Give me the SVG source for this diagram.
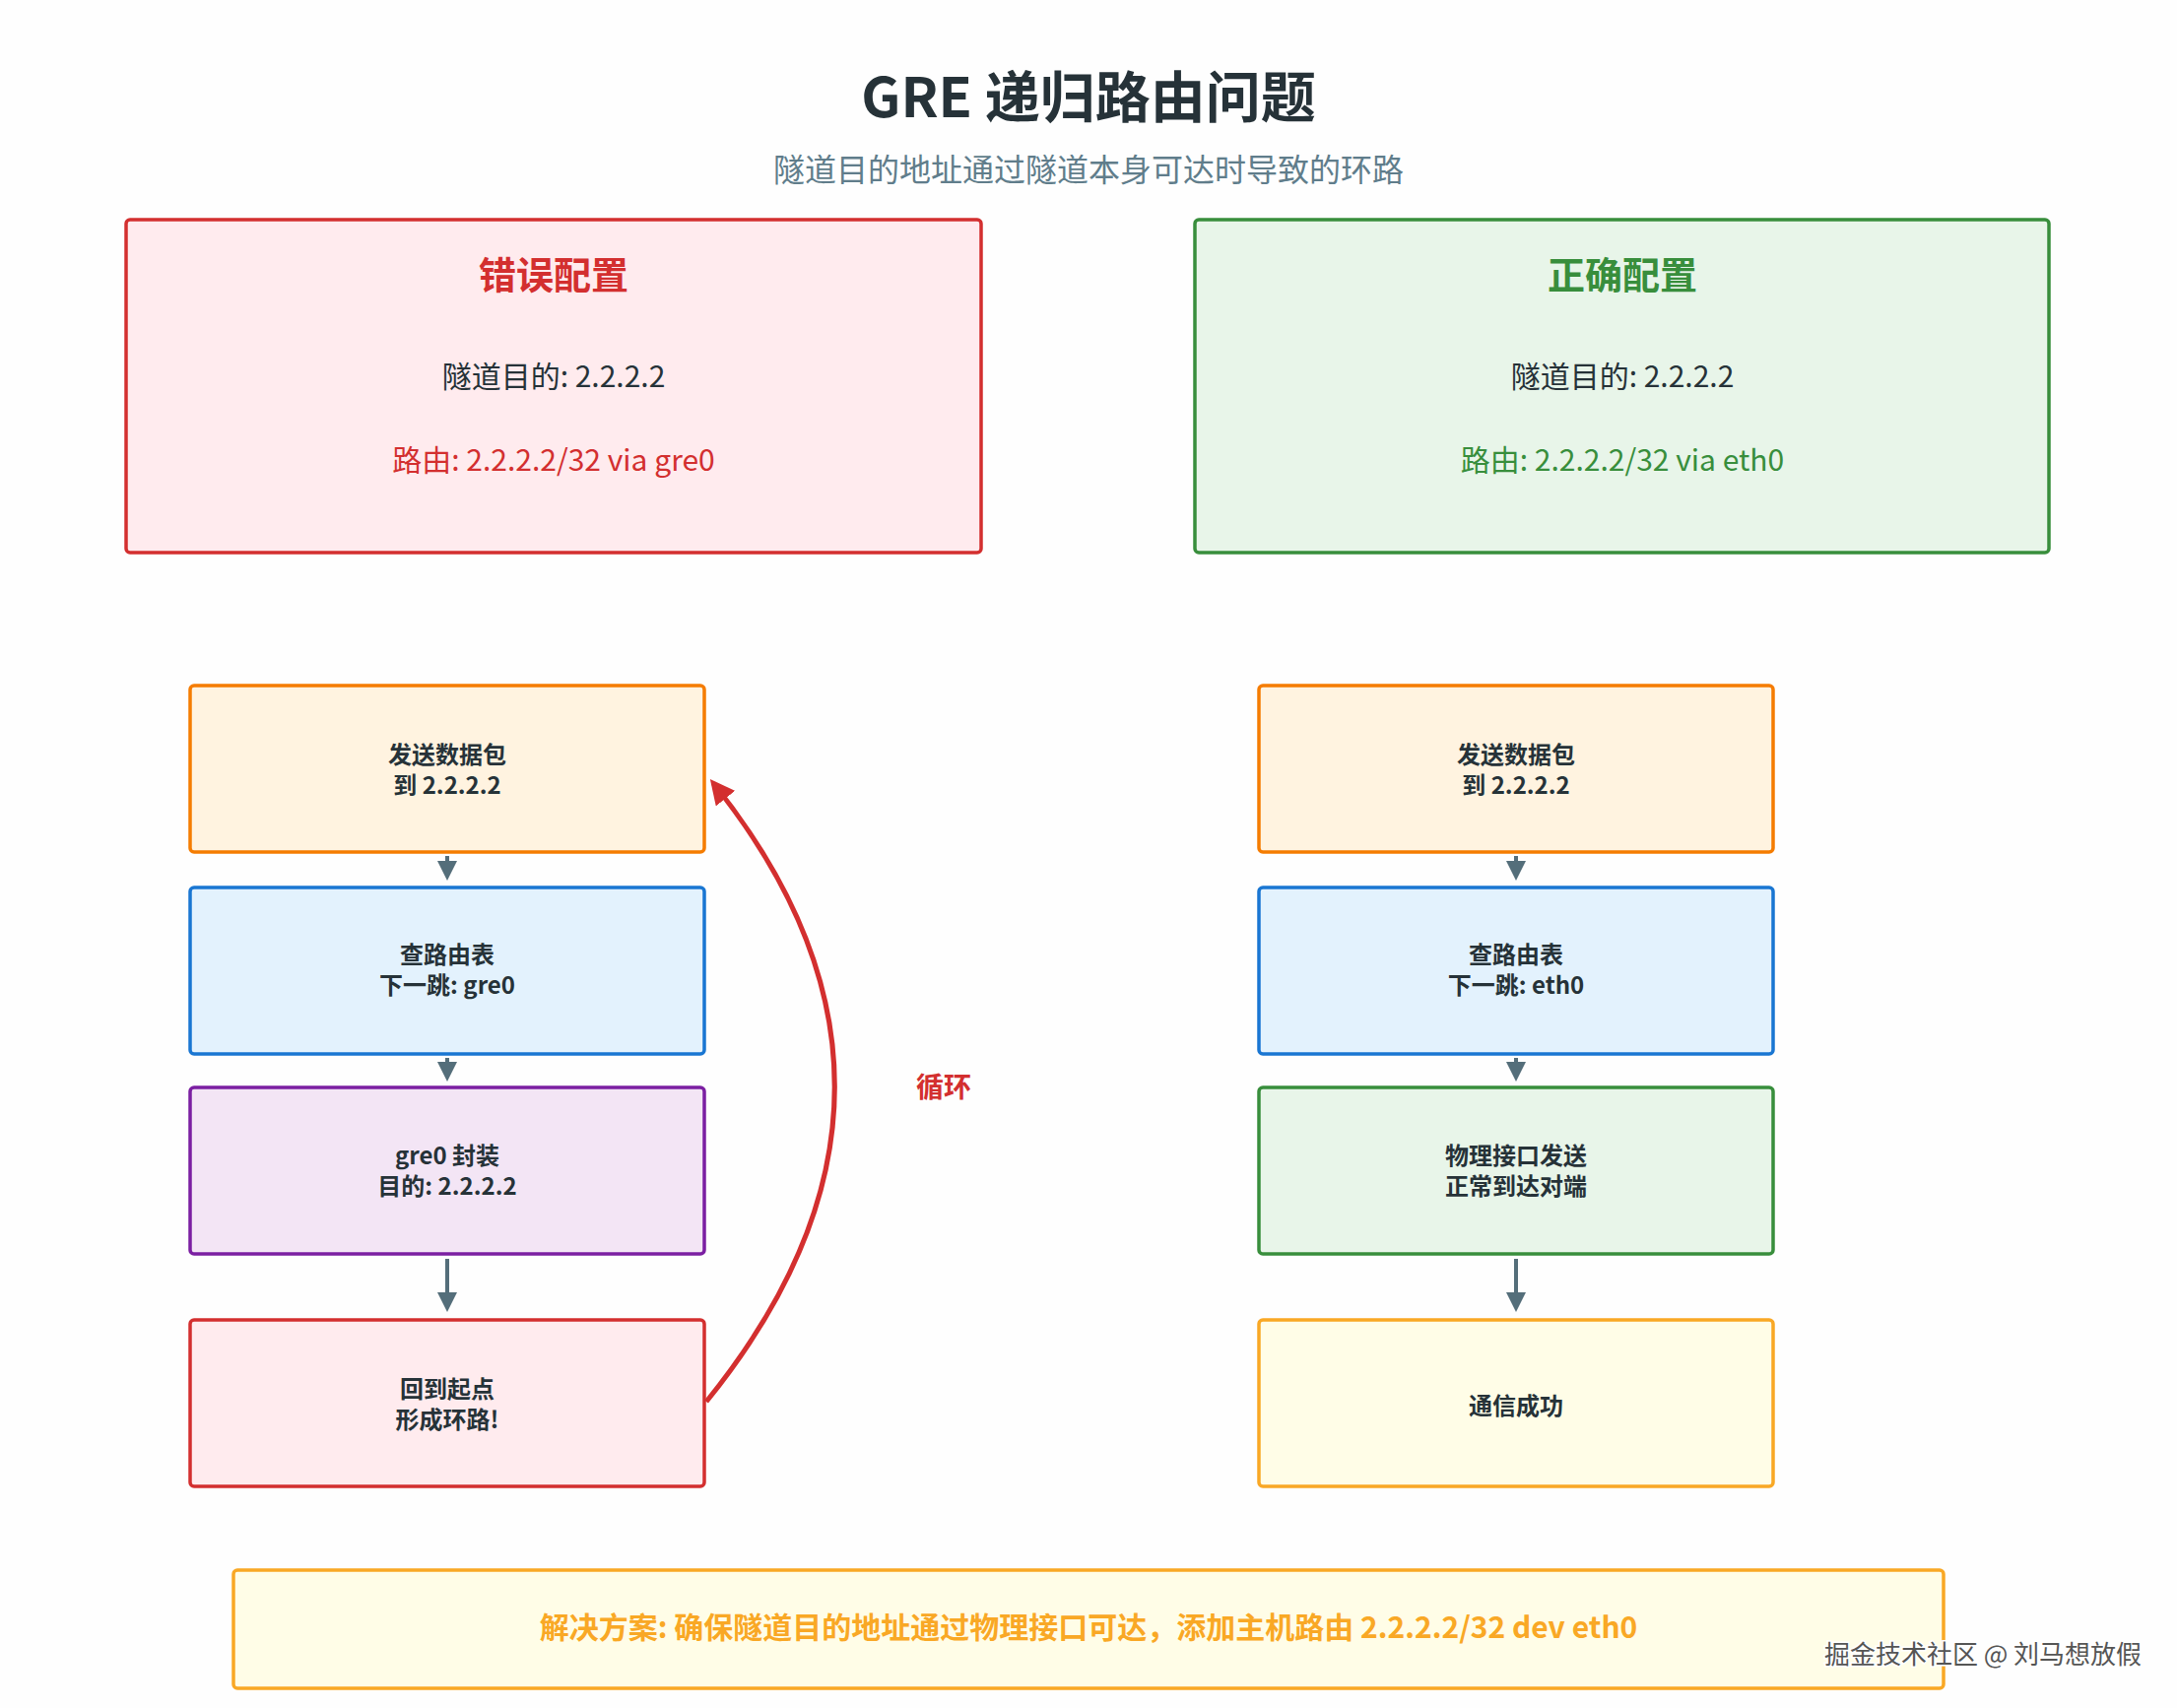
<svg xmlns="http://www.w3.org/2000/svg" width="2210" height="1734" viewBox="0 0 2210 1734">
<style>
text{font-family:"Noto Sans CJK SC","Noto Sans",sans-serif;text-anchor:middle;dominant-baseline:central}
.n{font-size:24px;font-weight:bold;fill:#263238}
.b{stroke-width:3.5;rx:4}
.a{stroke:#546e7a;stroke-width:4;fill:none;marker-end:url(#ah)}
</style>
<defs>
<marker id="ah" markerWidth="5" markerHeight="5" refX="4" refY="2.5" orient="auto"><path d="M0,0L5,2.5L0,5z" fill="#546e7a"/></marker>
<marker id="rh" markerWidth="5" markerHeight="5" refX="4" refY="2.5" orient="auto"><path d="M0,0L5,2.5L0,5z" fill="#d32f2f"/></marker>
</defs>
<rect width="2210" height="1734" fill="#fefefe"/>
<text x="1105" y="94" style="font-size:56px;font-weight:bold;fill:#263238">GRE 递归路由问题</text>
<text x="1105" y="170" style="font-size:32px;fill:#607d8b">隧道目的地址通过隧道本身可达时导致的环路</text>
<g id="wrong"><rect x="128" y="223" width="868" height="338" class="b" fill="#ffebee" stroke="#d32f2f"/>
<text x="562" y="276" style="font-size:38px;font-weight:bold;fill:#d32f2f">错误配置</text>
<text x="562" y="380" style="font-size:30px;fill:#263238">隧道目的: 2.2.2.2</text>
<text x="562" y="465" style="font-size:30px;fill:#d32f2f">路由: 2.2.2.2/32 via gre0</text></g>
<g id="right"><rect x="1213" y="223" width="867" height="338" class="b" fill="#e8f5e9" stroke="#388e3c"/>
<text x="1647" y="276" style="font-size:38px;font-weight:bold;fill:#388e3c">正确配置</text>
<text x="1647" y="380" style="font-size:30px;fill:#263238">隧道目的: 2.2.2.2</text>
<text x="1647" y="465" style="font-size:30px;fill:#388e3c">路由: 2.2.2.2/32 via eth0</text></g>
<g id="l1"><rect x="193" y="696" width="522" height="169" class="b" fill="#fff3e0" stroke="#f57c00"/><text class="n" x="454" y="764">发送数据包</text><text class="n" x="454" y="795">到 2.2.2.2</text></g>
<g id="l2"><rect x="193" y="901" width="522" height="169" class="b" fill="#e3f2fd" stroke="#1976d2"/><text class="n" x="454" y="967">查路由表</text><text class="n" x="454" y="998">下一跳: gre0</text></g>
<g id="l3"><rect x="193" y="1104" width="522" height="169" class="b" fill="#f3e5f5" stroke="#7b1fa2"/><text class="n" x="454" y="1171">gre0 封装</text><text class="n" x="454" y="1202">目的: 2.2.2.2</text></g>
<g id="l4"><rect x="193" y="1340" width="522" height="169" class="b" fill="#ffebee" stroke="#d32f2f"/><text class="n" x="454" y="1408">回到起点</text><text class="n" x="454" y="1439">形成环路!</text></g>
<g id="r1"><rect x="1278" y="696" width="522" height="169" class="b" fill="#fff3e0" stroke="#f57c00"/><text class="n" x="1539" y="764">发送数据包</text><text class="n" x="1539" y="795">到 2.2.2.2</text></g>
<g id="r2"><rect x="1278" y="901" width="522" height="169" class="b" fill="#e3f2fd" stroke="#1976d2"/><text class="n" x="1539" y="967">查路由表</text><text class="n" x="1539" y="998">下一跳: eth0</text></g>
<g id="r3"><rect x="1278" y="1104" width="522" height="169" class="b" fill="#e8f5e9" stroke="#388e3c"/><text class="n" x="1539" y="1171">物理接口发送</text><text class="n" x="1539" y="1202">正常到达对端</text></g>
<g id="r4"><rect x="1278" y="1340" width="522" height="169" class="b" fill="#fffde7" stroke="#f9a825"/><text class="n" x="1539" y="1425">通信成功</text></g>
<g id="connectors">
<path class="a" d="M454,869V890"/><path class="a" d="M454,1074V1094"/><path class="a" d="M454,1278V1328"/>
<path class="a" d="M1539,869V890"/><path class="a" d="M1539,1074V1094"/><path class="a" d="M1539,1278V1328"/>
<path d="M717,1423Q974,1106 724,795" stroke="#d32f2f" stroke-width="5" fill="none" marker-end="url(#rh)"/>
<text x="958" y="1102" style="font-size:28px;font-weight:bold;fill:#d32f2f">循环</text>
</g>
<g id="solution"><rect x="237" y="1594" width="1736" height="120" class="b" fill="#fffde7" stroke="#f9a825"/>
<text x="1105" y="1650" style="font-size:30px;font-weight:bold;fill:#f9a825">解决方案: 确保隧道目的地址通过物理接口可达，添加主机路由 2.2.2.2/32 dev eth0</text></g>
<text x="2013" y="1677" style="font-size:26px;fill:#555;stroke:#fff;stroke-width:3;paint-order:stroke">掘金技术社区 @ 刘马想放假</text>
</svg>
